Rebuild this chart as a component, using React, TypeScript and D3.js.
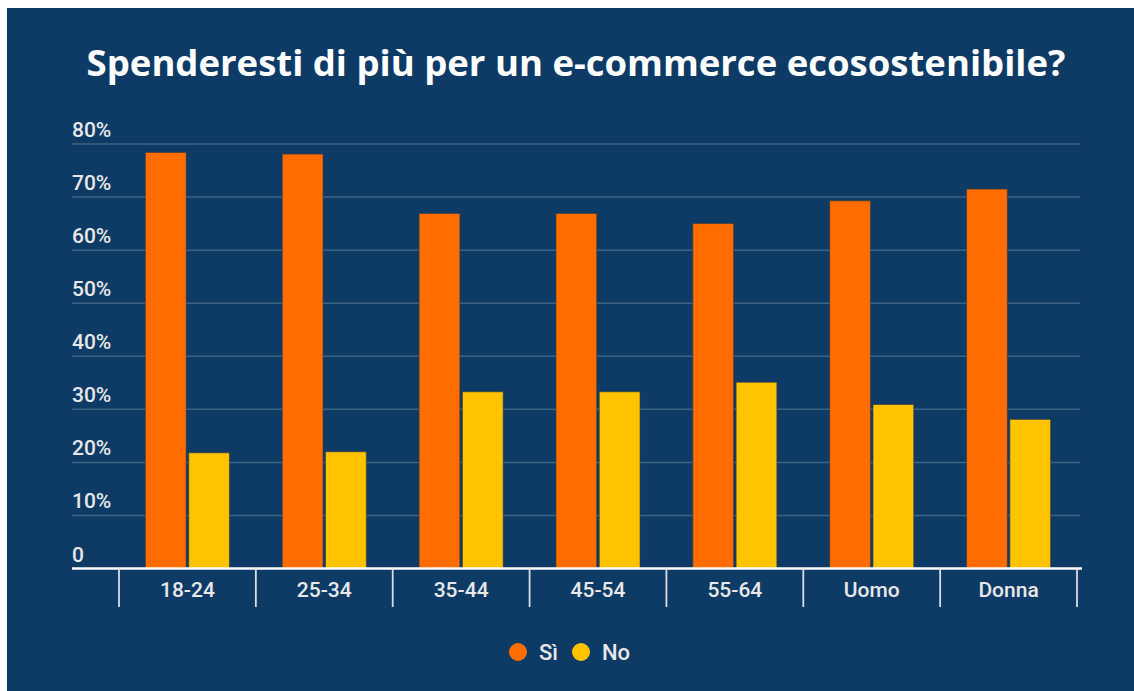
import React from 'react';
import * as d3 from 'd3';

const categories = ['18-24', '25-34', '35-44', '45-54', '55-64', 'Uomo', 'Donna'];
const series = ['Sì', 'No'];
const siValues = [78.4, 78.1, 66.9, 66.9, 65.0, 69.3, 71.5];
const noValues = [21.8, 22.0, 33.3, 33.3, 35.1, 30.9, 28.1];
const yTicks = [0, 10, 20, 30, 40, 50, 60, 70, 80];

const W = 1134;
const H = 691;
const BG = '#0d3b66';
const COLORS = ['#ff6d00', '#ffc300'];

const App: React.FC = () => {
  const y = d3.scaleLinear().domain([0, 80]).range([568.5, 144]);
  const x0 = d3.scaleBand<string>().domain(categories).range([119, 1077]);
  const x1 = d3.scaleBand<string>().domain(series).range([0, 84]).paddingInner(0.06);
  const values = [siValues, noValues];
  const textFill = '#e8e8e8';

  return (
    <div style={{ position: 'absolute', left: 0, top: 0 }}>
      <svg width={W} height={H} style={{ display: 'block' }}>
        <rect x={7} y={8} width={W - 7} height={H - 8} fill={BG} />
        <text
          x={576}
          y={76}
          textAnchor="middle"
          fill="#ffffff"
          fontFamily="'Open Sans', sans-serif"
          fontWeight={700}
          fontSize={36.5}
        >
          Spenderesti di più per un e-commerce ecosostenibile?
        </text>

        {yTicks.map((t) => (
          <g key={t}>
            {t > 0 && (
              <line x1={72} x2={1080} y1={y(t)} y2={y(t)} stroke="rgba(255,255,255,0.2)" strokeWidth={1.5} />
            )}
            <text
              x={72}
              y={y(t) - 7}
              fill={textFill}
              fontFamily="Roboto, sans-serif"
              fontWeight={500}
              fontSize={21}
            >
              {t === 0 ? '0' : `${t}%`}
            </text>
          </g>
        ))}

        {categories.map((c, i) => (
          <g key={c} transform={`translate(${x0(c)! + (x0.bandwidth() - 84) / 2},0)`}>
            {series.map((s, j) => (
              <rect
                key={s}
                x={x1(s)}
                y={y(values[j][i])}
                width={x1.bandwidth()}
                height={y(0) - y(values[j][i])}
                fill={COLORS[j]}
                stroke="rgba(60,60,60,0.6)"
                strokeWidth={1}
              />
            ))}
          </g>
        ))}

        <line x1={72} x2={1082} y1={y(0)} y2={y(0)} stroke="#ffffff" strokeWidth={2.5} />
        {[...categories.map((c) => x0(c)!), 1077].map((tx, i) => (
          <line key={i} x1={tx} x2={tx} y1={y(0)} y2={607} stroke="#d8dde3" strokeWidth={1.8} />
        ))}
        {categories.map((c) => (
          <text
            key={c}
            x={x0(c)! + x0.bandwidth() / 2}
            y={596.5}
            textAnchor="middle"
            fill={textFill}
            fontFamily="Roboto, sans-serif"
            fontWeight={500}
            fontSize={21}
          >
            {c}
          </text>
        ))}

        <g fontFamily="Roboto, sans-serif" fontWeight={500} fontSize={22} fill={textFill}>
          <circle cx={518} cy={652} r={9} fill={COLORS[0]} />
          <text x={539} y={660}>{series[0]}</text>
          <circle cx={581} cy={652} r={9} fill={COLORS[1]} />
          <text x={602} y={660}>{series[1]}</text>
        </g>
      </svg>
    </div>
  );
};

export default App;
